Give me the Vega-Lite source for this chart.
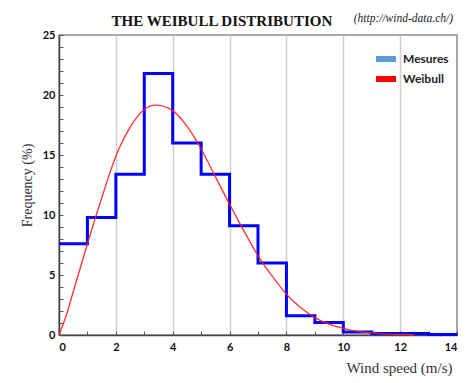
{
  "$schema": "https://vega.github.io/schema/vega-lite/v6.json",
  "autosize": "none",
  "width": 398,
  "height": 300,
  "padding": {"left": 59, "top": 35, "right": 11, "bottom": 48},
  "background": "white",
  "datasets": {
    "steps": [
      {"speed": 0, "freq": 7.6},
      {"speed": 1, "freq": 9.8},
      {"speed": 2, "freq": 13.4},
      {"speed": 3, "freq": 21.8},
      {"speed": 4, "freq": 16.0},
      {"speed": 5, "freq": 13.4},
      {"speed": 6, "freq": 9.1},
      {"speed": 7, "freq": 6.0},
      {"speed": 8, "freq": 1.6},
      {"speed": 9, "freq": 1.05},
      {"speed": 10, "freq": 0.25},
      {"speed": 11, "freq": 0.12},
      {"speed": 12, "freq": 0.12},
      {"speed": 13, "freq": 0.04},
      {"speed": 14, "freq": 0.04}
    ],
    "weibull": [
      {"speed": 0, "freq": 0},
      {"speed": 0.25, "freq": 1.6},
      {"speed": 0.5, "freq": 3.6},
      {"speed": 0.75, "freq": 5.6},
      {"speed": 1, "freq": 7.6},
      {"speed": 1.5, "freq": 11.4},
      {"speed": 2, "freq": 14.9},
      {"speed": 2.5, "freq": 17.3},
      {"speed": 3, "freq": 18.8},
      {"speed": 3.4, "freq": 19.15},
      {"speed": 4, "freq": 18.7},
      {"speed": 4.5, "freq": 17.4},
      {"speed": 5, "freq": 15.5},
      {"speed": 5.5, "freq": 13.2},
      {"speed": 6, "freq": 10.9},
      {"speed": 6.5, "freq": 8.7},
      {"speed": 7, "freq": 6.6},
      {"speed": 7.5, "freq": 4.9},
      {"speed": 8, "freq": 3.4},
      {"speed": 8.5, "freq": 2.3},
      {"speed": 9, "freq": 1.45},
      {"speed": 9.5, "freq": 0.9},
      {"speed": 10, "freq": 0.55},
      {"speed": 10.5, "freq": 0.3},
      {"speed": 11, "freq": 0.17},
      {"speed": 11.5, "freq": 0.08},
      {"speed": 12, "freq": 0.04},
      {"speed": 12.5, "freq": 0.02}
    ],
    "legend": [
      {"series": "Mesures"},
      {"series": "Weibull"}
    ],
    "titles": [
      {"label": "THE WEIBULL DISTRIBUTION"}
    ],
    "source": [
      {"label": "(http://wind-data.ch/)"}
    ]
  },
  "config": {
    "view": {"stroke": "#8a8a8a", "strokeWidth": 1.5},
    "axis": {
      "labelFont": "Lato",
      "labelFontWeight": "bold",
      "labelFontSize": 11,
      "labelColor": "#111111",
      "titleFont": "Liberation Serif",
      "titleFontWeight": "normal",
      "titleFontSize": 14,
      "titleColor": "#333333",
      "domainColor": "#444444",
      "domainWidth": 1.5,
      "tickColor": "#555555",
      "tickWidth": 1,
      "tickSize": -4
    },
    "legend": {
      "orient": "none",
      "legendX": 317,
      "legendY": 14,
      "padding": 0,
      "symbolType": "M-1,-0.3H1V0.3H-1Z",
      "symbolSize": 400,
      "symbolStrokeWidth": 0,
      "labelFont": "Lato",
      "labelFontWeight": "bold",
      "labelFontSize": 12,
      "labelColor": "#222222",
      "labelOffset": 7,
      "rowPadding": 4
    }
  },
  "resolve": {"axis": {"x": "independent", "y": "independent"}},
  "layer": [
    {
      "data": {"name": "steps"},
      "mark": {"type": "line", "interpolate": "step-after", "color": "#0000ff", "strokeWidth": 3},
      "encoding": {
        "x": {
          "field": "speed",
          "type": "quantitative",
          "scale": {"domain": [0, 14], "nice": false, "zero": false},
          "axis": {
            "orient": "bottom",
            "title": "Wind speed (m/s)",
            "titleFontSize": 15,
            "titleAnchor": "end",
            "titleX": 393,
            "titleAlign": "right",
            "titlePadding": 8,
            "values": [0, 2, 4, 6, 8, 10, 12, 14],
            "labelPadding": 10,
            "labelOverlap": false,
            "grid": true,
            "gridColor": "#cfcfcf",
            "gridWidth": 1.5,
            "gridOpacity": {"condition": {"test": "datum.value === 0 || datum.value === 14", "value": 0}, "value": 1}
          }
        },
        "y": {
          "field": "freq",
          "type": "quantitative",
          "scale": {"domain": [0, 25], "nice": false},
          "axis": {
            "orient": "left",
            "title": "Frequency  (%)",
            "titlePadding": 8,
            "values": [0, 5, 10, 15, 20, 25],
            "labelPadding": 8,
            "labelOverlap": false,
            "grid": false
          }
        }
      }
    },
    {
      "data": {"name": "weibull"},
      "mark": {"type": "line", "interpolate": "monotone", "color": "#ff1a1a", "strokeWidth": 1.3, "opacity": 0.9},
      "encoding": {
        "x": {
          "field": "speed",
          "type": "quantitative",
          "axis": {"orient": "bottom", "values": [1, 3, 5, 7, 9, 11, 13], "labels": false, "domain": false, "title": null, "grid": false}
        },
        "y": {
          "field": "freq",
          "type": "quantitative",
          "axis": {"orient": "left", "values": [1, 2, 3, 4, 6, 7, 8, 9, 11, 12, 13, 14, 16, 17, 18, 19, 21, 22, 23, 24], "labels": false, "domain": false, "title": null, "grid": false}
        }
      }
    },
    {
      "data": {"name": "legend"},
      "mark": {"type": "square", "opacity": 0},
      "encoding": {
        "color": {
          "field": "series",
          "type": "nominal",
          "scale": {"domain": ["Mesures", "Weibull"], "range": ["#5b9bd5", "#ff0000"]},
          "legend": {"title": null}
        }
      }
    },
    {
      "data": {"name": "titles"},
      "mark": {"type": "text", "font": "Liberation Serif", "fontWeight": "bold", "fontSize": 15, "align": "center", "baseline": "middle", "color": "#111111"},
      "encoding": {
        "x": {"datum": 5.73, "axis": null},
        "y": {"datum": 26.2, "axis": null},
        "text": {"field": "label"}
      }
    },
    {
      "data": {"name": "source"},
      "mark": {"type": "text", "font": "Liberation Serif", "fontStyle": "italic", "fontSize": 11.5, "align": "right", "baseline": "middle", "color": "#222222"},
      "encoding": {
        "x": {"datum": 13.86, "axis": null},
        "y": {"datum": 26.3, "axis": null},
        "text": {"field": "label"}
      }
    }
  ]
}
